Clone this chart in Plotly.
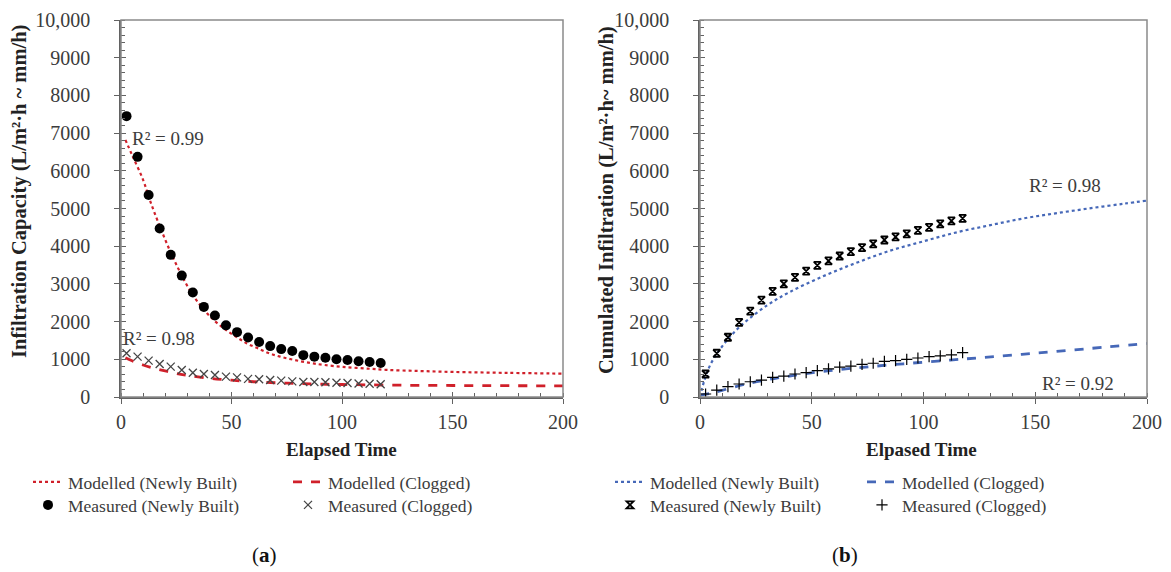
import plotly.graph_objects as go

# ---------------- data ----------------
t_meas = [2.5 + 5 * k for k in range(24)]

# Panel (a): infiltration capacity
a_meas_new = [7450, 6370, 5360, 4470, 3770, 3220, 2770, 2390, 2160, 1900, 1720, 1580,
              1460, 1350, 1270, 1220, 1110, 1070, 1040, 1000, 980, 950, 930, 900]
a_meas_clog = [1160, 1070, 965, 875, 805, 715, 645, 610, 585, 540, 520, 480,
               470, 450, 435, 415, 400, 400, 390, 380, 370, 360, 350, 340]
a_mod_t = [2, 5, 10, 13, 17, 22, 27, 32, 37, 42, 47, 52, 57, 62, 67, 72, 77, 82, 87, 92,
           100, 110, 120, 135, 150, 175, 200]
a_mod_new = [6820, 6420, 5760, 5230, 4610, 3900, 3280, 2750, 2350, 2040, 1800, 1600, 1420,
             1290, 1160, 1070, 1000, 940, 890, 850, 800, 760, 720, 690, 665, 640, 620]
a_mod_clog_t = [2, 5, 10, 15, 20, 25, 30, 40, 50, 60, 70, 80, 90, 100, 120, 150, 200]
a_mod_clog = [1040, 960, 850, 760, 690, 625, 575, 495, 445, 405, 378, 358, 342, 332, 316, 305, 295]

# Panel (b): cumulated infiltration
b_meas_new = [610, 1160, 1585, 1980, 2280, 2570, 2800, 3000, 3175, 3340, 3490, 3610,
              3740, 3855, 3960, 4060, 4165, 4250, 4325, 4420, 4500, 4590, 4670, 4740]
b_meas_clog = [80, 185, 275, 345, 405, 450, 520, 555, 610, 645, 700, 745,
               790, 820, 865, 895, 945, 965, 1000, 1035, 1070, 1090, 1120, 1175]
b_mod_t = [0, 2, 5, 10, 15, 20, 30, 40, 55, 70, 85, 100, 115, 130, 145, 160, 175, 190, 200]
b_mod_new = [0, 450, 900, 1350, 1700, 1980, 2430, 2780, 3200, 3560, 3880, 4130, 4370,
             4560, 4740, 4880, 5010, 5130, 5210]
b_mod_clog_t = [0, 5, 22, 40, 58, 76, 94, 112, 127, 150, 175, 200]
b_mod_clog = [50, 100, 365, 555, 700, 805, 895, 980, 1050, 1160, 1290, 1420]

y_ticks = [0, 1000, 2000, 3000, 4000, 5000, 6000, 7000, 8000, 9000, 10000]
y_tick_text = ["0", "1000", "2000", "3000", "4000", "5000", "6000", "7000", "8000", "9000", "10,000"]
x_ticks = [0, 50, 100, 150, 200]

# ---------------- styling ----------------
SERIF = "Liberation Serif, Times New Roman, serif"
TXT = "#3c3c3c"
RED = "#d0202a"
BLUE = "#4668b8"
AX = "#626262"
OFF = 8                      # page body margin of the generated html
W, H = 1171 - OFF, 572 - OFF

def px_x(p):
    return (p - OFF) / W

def px_y(p):
    return 1 - (p - OFF) / H

fig = go.Figure()

# panel a
fig.add_trace(go.Scatter(x=a_mod_t, y=a_mod_new, mode="lines", line=dict(color=RED, dash="dot", width=2.2, shape="spline"),
                         name="Modelled (Newly Built)", xaxis="x", yaxis="y", legend="legend"))
fig.add_trace(go.Scatter(x=a_mod_clog_t, y=a_mod_clog, mode="lines", line=dict(color=RED, dash="dash", width=2.8, shape="spline"),
                         name="Modelled (Clogged)", xaxis="x", yaxis="y", legend="legend2"))
fig.add_trace(go.Scatter(x=t_meas, y=a_meas_new, mode="markers", marker=dict(color="black", size=10, symbol="circle"),
                         name="Measured (Newly Built)", xaxis="x", yaxis="y", legend="legend3"))
fig.add_trace(go.Scatter(x=t_meas, y=a_meas_clog, mode="markers",
                         marker=dict(color="#444444", size=8, symbol="x-thin-open", line=dict(color="#444444", width=1.3)),
                         name="Measured (Clogged)", xaxis="x", yaxis="y", legend="legend4"))

# panel b
fig.add_trace(go.Scatter(x=b_mod_t, y=b_mod_new, mode="lines", line=dict(color=BLUE, dash="dot", width=2.2, shape="spline"),
                         name="Modelled (Newly Built)", xaxis="x2", yaxis="y2", legend="legend5"))
fig.add_trace(go.Scatter(x=b_mod_clog_t, y=b_mod_clog, mode="lines", line=dict(color=BLUE, dash="dash", width=2.8, shape="spline"),
                         name="Modelled (Clogged)", xaxis="x2", yaxis="y2", legend="legend6"))
fig.add_trace(go.Scatter(x=t_meas, y=b_meas_new, mode="markers",
                         marker=dict(color="black", size=7, symbol="hourglass-open", line=dict(color="black", width=1.8)),
                         name="Measured (Newly Built)", xaxis="x2", yaxis="y2", legend="legend7"))
fig.add_trace(go.Scatter(x=t_meas, y=b_meas_clog, mode="markers",
                         marker=dict(color="black", size=8, symbol="cross-thin-open", line=dict(color="black", width=1.2)),
                         name="Measured (Clogged)", xaxis="x2", yaxis="y2", legend="legend8"))

# invisible traces to realise overlay tick axes (inner half of crossing major ticks)
fig.add_trace(go.Scatter(x=[None], y=[None], xaxis="x3", yaxis="y3", showlegend=False, hoverinfo="skip"))
fig.add_trace(go.Scatter(x=[None], y=[None], xaxis="x4", yaxis="y4", showlegend=False, hoverinfo="skip"))

dom_y = [px_y(397), px_y(20)]
dom_x1 = [px_x(121), px_x(563)]
dom_x2 = [px_x(700), px_x(1147)]

TICKFONT = dict(family=SERIF, size=20, color=TXT)

def xax(domain, anchor):
    return dict(domain=domain, anchor=anchor, range=[0, 200], tickvals=x_ticks, showgrid=False, zeroline=False,
                showline=True, linecolor=AX, linewidth=1.5,
                ticks="outside", ticklen=5, tickwidth=1.2, tickcolor=AX,
                tickfont=TICKFONT, ticklabelstandoff=1,
                minor=dict(dtick=10, ticks="inside", ticklen=4, tickwidth=1, tickcolor=AX))

def yax(anchor):
    return dict(domain=dom_y, anchor=anchor, range=[0, 10000], tickvals=y_ticks, ticktext=y_tick_text,
                showgrid=False, zeroline=False, showline=True, linecolor=AX, linewidth=1.5,
                ticks="outside", ticklen=5, tickwidth=1.2, tickcolor=AX,
                tickfont=TICKFONT, ticklabelstandoff=20,
                minor=dict(dtick=200, ticks="inside", ticklen=4, tickwidth=1, tickcolor=AX))

def xov(domain, anchor, over):
    return dict(domain=domain, anchor=anchor, overlaying=over, range=[0, 200], tickvals=x_ticks, showgrid=False,
                zeroline=False, showline=False, ticks="inside", ticklen=5, tickwidth=1.2, tickcolor=AX,
                showticklabels=False)

def yov(anchor, over):
    return dict(domain=dom_y, anchor=anchor, overlaying=over, range=[0, 10000], tickvals=y_ticks, showgrid=False,
                zeroline=False, showline=False, ticks="inside", ticklen=5, tickwidth=1.2, tickcolor=AX,
                showticklabels=False)

def leg(xp, yp):
    return dict(x=px_x(xp), y=px_y(yp), xanchor="left", yanchor="middle", orientation="v",
                font=dict(family=SERIF, size=17.5, color=TXT), bgcolor="rgba(0,0,0,0)", itemwidth=30,
                tracegroupgap=0)

R1, R2 = 482, 505
fig.update_layout(
    width=W, height=H, margin=dict(l=0, r=0, t=0, b=0, autoexpand=False),
    paper_bgcolor="white", plot_bgcolor="white", showlegend=True,
    xaxis=xax(dom_x1, "y"), yaxis=yax("x"),
    xaxis2=xax(dom_x2, "y2"), yaxis2=yax("x2"),
    xaxis3=xov(dom_x1, "y3", "x"), yaxis3=yov("x3", "y"),
    xaxis4=xov(dom_x2, "y4", "x2"), yaxis4=yov("x4", "y2"),
    legend=leg(28, R1), legend2=leg(288, R1), legend3=leg(28, R2), legend4=leg(288, R2),
    legend5=leg(610, R1), legend6=leg(862, R1), legend7=leg(610, R2), legend8=leg(862, R2),
)

# plot-area frames (top / right edges in grey)
for xr, yr in [("x domain", "y domain"), ("x2 domain", "y2 domain")]:
    fig.add_shape(type="rect", xref=xr, yref=yr, x0=0, x1=1, y0=0, y1=1,
                  line=dict(color="#8a8a8a", width=1.5), layer="above")

ann = [
    dict(text="R² = 0.99", x=px_x(130), y=px_y(138), xanchor="left"),
    dict(text="R² = 0.98", x=px_x(121), y=px_y(338), xanchor="left"),
    dict(text="R² = 0.98", x=px_x(1027), y=px_y(186), xanchor="left"),
    dict(text="R² = 0.92", x=px_x(1040), y=px_y(383), xanchor="left"),
]
for a in ann:
    fig.add_annotation(xref="paper", yref="paper", yanchor="middle", showarrow=False,
                       font=dict(family=SERIF, size=19, color=TXT), **a)

titles = [
    dict(text="<b>Elapsed Time</b>", x=px_x(342), y=px_y(449), textangle=0, size=19),
    dict(text="<b>Elpased Time</b>", x=px_x(921), y=px_y(449), textangle=0, size=19),
    dict(text="<b>Infiltration Capacity (L/m²·h ~ mm/h)</b>", x=px_x(19), y=px_y(192), textangle=-90, size=20.5),
    dict(text="<b>Cumulated Infiltration (L/m²·h~ mm/h)</b>", x=px_x(606), y=px_y(200), textangle=-90, size=20.5),
]
for a in titles:
    size = a.pop("size")
    fig.add_annotation(xref="paper", yref="paper", xanchor="center", yanchor="middle", showarrow=False,
                       font=dict(family=SERIF, size=size, color="#222222"), **a)

for txt, xp in [("(<b>a</b>)", 264), ("(<b>b</b>)", 845)]:
    fig.add_annotation(xref="paper", yref="paper", x=px_x(xp), y=px_y(555), xanchor="center", yanchor="middle",
                       showarrow=False, text=txt, font=dict(family=SERIF, size=21, color="#111111"))

fig.write_html("out.html")
